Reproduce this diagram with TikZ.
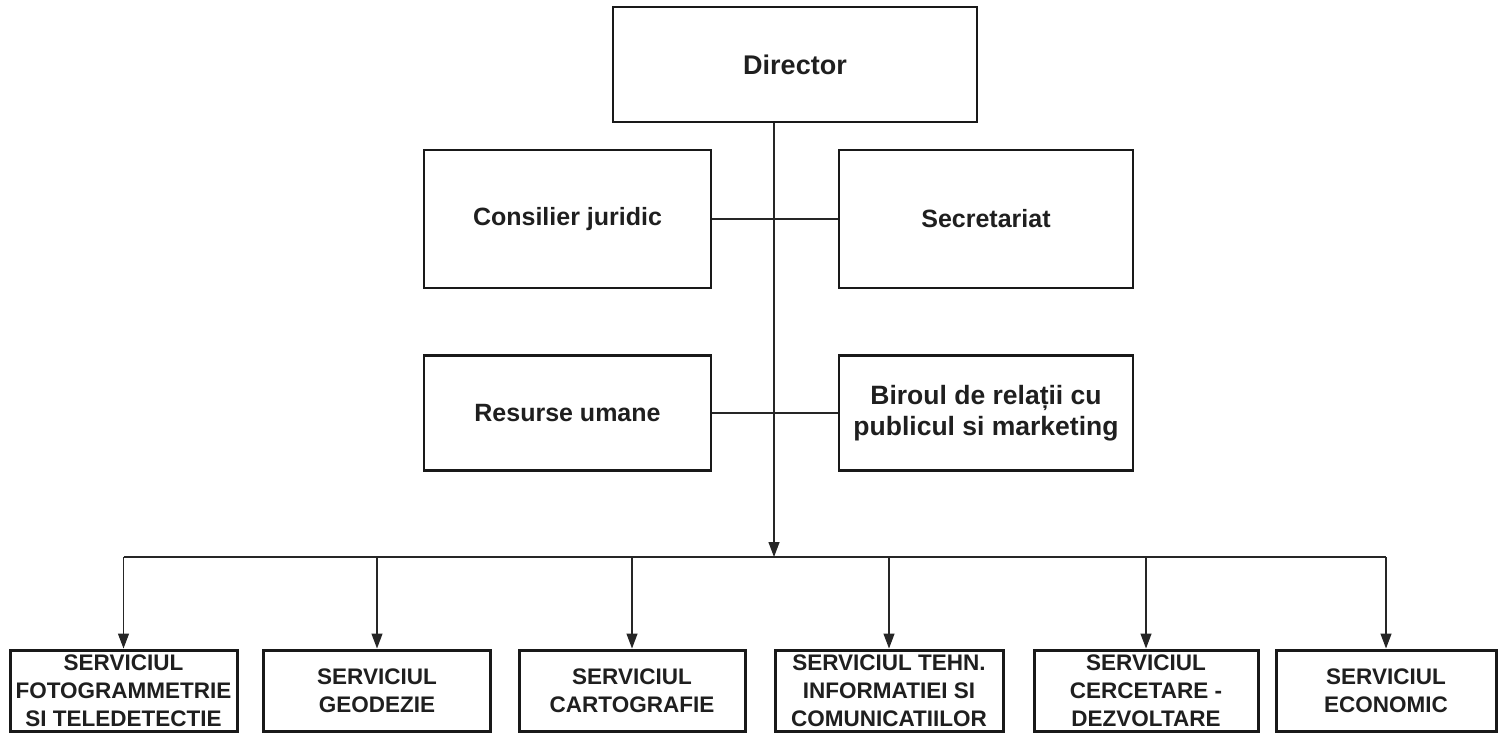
\documentclass[tikz,border=0pt]{standalone}
\usepackage{fontspec}
\setmainfont{Liberation Sans}
\usetikzlibrary{arrows.meta}
\begin{document}
\begin{tikzpicture}[x=1pt,y=-1pt,
  box/.style={draw=black!90, line width=2.8pt, font=\fontsize{25}{31}\selectfont\bfseries, align=center, inner sep=0pt, text=black!88},
  sbox/.style={box, line width=3pt, font=\fontsize{22.5}{28}\selectfont\bfseries, minimum height=81pt},
  link/.style={draw=black!85, line width=1.3pt},
  arr/.style={link, -{Triangle[width=11pt,length=15pt]}}]
\useasboundingbox (0,0) rectangle (1506,733);
% top
\node[box, font=\fontsize{27}{32}\selectfont\bfseries, minimum width=364pt, minimum height=115pt] (dir) at (795,64.5) {Director};
\node[box, minimum width=287pt, minimum height=138pt] (cj) at (567.5,219) {Consilier juridic};
\node[box, minimum width=294pt, minimum height=138pt] (sec) at (986,219) {Secretariat};
\node[box, minimum width=287pt, minimum height=115pt] (ru) at (567.5,413) {Resurse umane};
\node[box, font=\fontsize{26.5}{31}\selectfont\bfseries, minimum width=294pt, minimum height=115pt] (bir) at (986,413) {Biroul de relații cu\\publicul si marketing};
% bottom
\node[sbox, minimum width=227pt] (b1) at (123.5,690.5) {SERVICIUL\\FOTOGRAMMETRIE\\SI TELEDETECTIE};
\node[sbox, minimum width=227pt] (b2) at (377,690.5) {SERVICIUL\\GEODEZIE};
\node[sbox, minimum width=226pt] (b3) at (632,690.5) {SERVICIUL\\CARTOGRAFIE};
\node[sbox, minimum width=228pt] (b4) at (889,690.5) {SERVICIUL TEHN.\\INFORMATIEI SI\\COMUNICATIILOR};
\node[sbox, minimum width=224pt] (b5) at (1146,690.5) {SERVICIUL\\CERCETARE -\\DEZVOLTARE};
\node[sbox, minimum width=220pt] (b6) at (1386,690.5) {SERVICIUL\\ECONOMIC};
% connectors
\coordinate (bus) at (774,557);
\draw[arr] (dir.south -| bus) -- (bus);
\draw[link] (cj.east) -- (sec.west);
\draw[link] (ru.east) -- (bir.west);
\draw[link] (b1.north |- bus) -- (b6.north |- bus);
\foreach \b in {b1,b2,b3,b4,b5,b6} {
  \draw[arr] (\b.north |- bus) -- (\b.north);
}
\end{tikzpicture}
\end{document}
